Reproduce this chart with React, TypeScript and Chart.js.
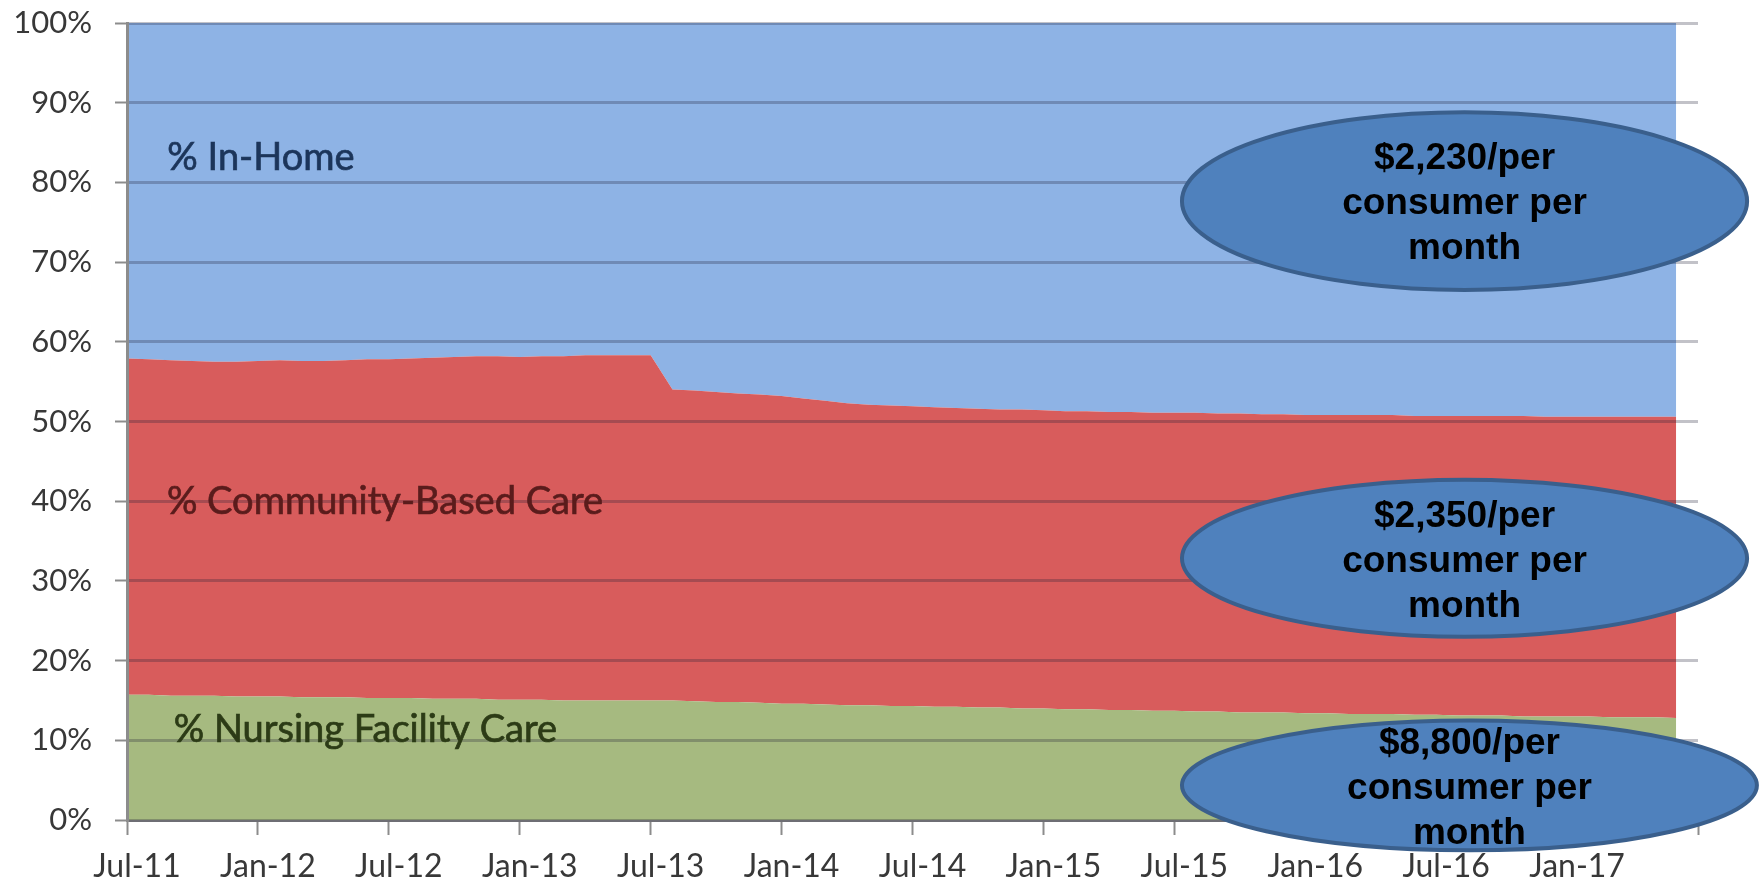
import { useEffect, useRef } from 'react';
import { Chart, registerables } from 'chart.js';

Chart.register(...registerables);

// Month index 0 = Jul-11 ... 71 = Jun-17 (axis runs to Jul-17 = 72)
const xTickLabels = ['Jul-11', 'Jan-12', 'Jul-12', 'Jan-13', 'Jul-13', 'Jan-14', 'Jul-14', 'Jan-15', 'Jul-15', 'Jan-16', 'Jul-16', 'Jan-17'];

const nursingFacility = [
  15.7, 15.7, 15.6, 15.6, 15.6, 15.5, 15.5, 15.5, 15.4, 15.4, 15.4, 15.3,
  15.3, 15.3, 15.2, 15.2, 15.2, 15.1, 15.1, 15.1, 15.0, 15.0, 15.0, 15.0,
  15.0, 15.0, 14.9, 14.8, 14.8, 14.7, 14.6, 14.6, 14.5, 14.4, 14.4, 14.3,
  14.3, 14.2, 14.2, 14.1, 14.1, 14.0, 14.0, 13.9, 13.9, 13.8, 13.8, 13.7,
  13.7, 13.6, 13.6, 13.5, 13.5, 13.5, 13.4, 13.4, 13.3, 13.3, 13.3, 13.2,
  13.2, 13.1, 13.1, 13.1, 13.0, 13.0, 13.0, 13.0, 12.9, 12.9, 12.9, 12.8,
];

const communityBased = [
  42.2, 42.1, 42.1, 42.0, 41.9, 42.0, 42.1, 42.2, 42.2, 42.2, 42.3, 42.5,
  42.5, 42.6, 42.8, 42.9, 43.0, 43.1, 43.0, 43.1, 43.2, 43.3, 43.3, 43.3,
  43.3, 39.0, 39.0, 38.9, 38.7, 38.7, 38.6, 38.3, 38.1, 37.9, 37.7, 37.7,
  37.6, 37.6, 37.5, 37.5, 37.4, 37.5, 37.4, 37.4, 37.4, 37.4, 37.4, 37.4,
  37.4, 37.5, 37.4, 37.5, 37.4, 37.4, 37.4, 37.4, 37.5, 37.5, 37.5, 37.5,
  37.5, 37.6, 37.6, 37.6, 37.7, 37.6, 37.6, 37.6, 37.7, 37.7, 37.7, 37.8,
];

const inHome = [
  42.1, 42.2, 42.3, 42.4, 42.5, 42.5, 42.4, 42.3, 42.4, 42.4, 42.3, 42.2,
  42.2, 42.1, 42.0, 41.9, 41.8, 41.8, 41.9, 41.8, 41.8, 41.7, 41.7, 41.7,
  41.7, 46.0, 46.1, 46.3, 46.5, 46.6, 46.8, 47.1, 47.4, 47.7, 47.9, 48.0,
  48.1, 48.2, 48.3, 48.4, 48.5, 48.5, 48.6, 48.7, 48.7, 48.8, 48.8, 48.9,
  48.9, 48.9, 49.0, 49.0, 49.1, 49.1, 49.2, 49.2, 49.2, 49.2, 49.2, 49.3,
  49.3, 49.3, 49.3, 49.3, 49.3, 49.4, 49.4, 49.4, 49.4, 49.4, 49.4, 49.4,
];

const seriesLabels = ['% In-Home', '% Community-Based Care', '% Nursing Facility Care'];
const costLabels = ['$2,230/per', '$2,350/per', '$8,800/per'];
const costSubLines = ['consumer per', 'month'];

// annotation placement in data units (month index, percent)
const seriesLabelAnchors = [
  { x: 1.85, y: 83.1, color: '#1c355a' },
  { x: 1.83, y: 39.9, color: '#5a1c1c' },
  { x: 2.14, y: 11.3, color: '#2c3b16' },
];
const ellipseBoxes = [
  { x0: 48.35, x1: 74.25, y0: 88.8, y1: 66.5, dy: 3 },
  { x0: 48.35, x1: 74.25, y0: 42.7, y1: 23.0, dy: 4 },
  { x0: 48.35, x1: 74.7, y0: 12.5, y1: -3.8, dy: 3 },
];

const toPoints = (arr: number[]) => arr.map((v, i) => ({ x: i, y: v }));

const annotationPlugin = {
  id: 'annotations',
  afterDraw(chart: any) {
    const { ctx } = chart;
    const xs = chart.scales.x;
    const ys = chart.scales.y;
    ctx.save();
    ctx.font = '38px Lato';
    ctx.textAlign = 'left';
    ctx.textBaseline = 'middle';
    ctx.lineWidth = 0.7;
    seriesLabels.forEach((label, i) => {
      const a = seriesLabelAnchors[i];
      const px = xs.getPixelForValue(a.x);
      const py = ys.getPixelForValue(a.y);
      ctx.fillStyle = a.color;
      ctx.strokeStyle = a.color;
      ctx.fillText(label, px, py);
      ctx.strokeText(label, px, py);
    });
    ellipseBoxes.forEach((b, i) => {
      const px0 = xs.getPixelForValue(b.x0);
      const px1 = xs.getPixelForValue(b.x1);
      const py0 = ys.getPixelForValue(b.y0);
      const py1 = ys.getPixelForValue(b.y1);
      const cx = (px0 + px1) / 2;
      const cy = (py0 + py1) / 2;
      ctx.beginPath();
      ctx.ellipse(cx, cy, (px1 - px0) / 2, (py1 - py0) / 2, 0, 0, Math.PI * 2);
      ctx.fillStyle = '#4f81bd';
      ctx.fill();
      ctx.lineWidth = 4;
      ctx.strokeStyle = '#3a5f8c';
      ctx.stroke();
      ctx.fillStyle = '#000';
      ctx.font = 'bold 37px "Liberation Sans", Arial, sans-serif';
      ctx.textAlign = 'center';
      ctx.textBaseline = 'middle';
      const lines = [costLabels[i], ...costSubLines];
      lines.forEach((t, k) => {
        ctx.fillText(t, cx, cy + b.dy + (k - 1) * 45);
      });
    });
    ctx.restore();
  },
};

export default function App() {
  const ref = useRef<HTMLCanvasElement | null>(null);
  useEffect(() => {
    if (!ref.current) return;
    const chart = new Chart(ref.current, {
      type: 'line',
      data: {
        datasets: [
          {
            label: seriesLabels[2],
            data: toPoints(nursingFacility),
            backgroundColor: '#a6ba80',
            borderWidth: 0,
            pointRadius: 0,
            fill: 'origin',
            tension: 0,
          },
          {
            label: seriesLabels[1],
            data: toPoints(communityBased),
            backgroundColor: '#d85c5c',
            borderWidth: 0,
            pointRadius: 0,
            fill: '-1',
            tension: 0,
          },
          {
            label: seriesLabels[0],
            data: toPoints(inHome),
            backgroundColor: '#8eb3e5',
            borderWidth: 0,
            pointRadius: 0,
            fill: '-1',
            tension: 0,
          },
        ],
      },
      options: {
        animation: false,
        responsive: false,
        devicePixelRatio: 1,
        layout: { padding: { left: 0, top: 23, right: 65, bottom: 0 } },
        plugins: { legend: { display: false }, tooltip: { enabled: false } },
        elements: { line: { borderWidth: 0 } },
        scales: {
          x: {
            type: 'linear',
            min: 0,
            max: 72,
            afterFit: (s: any) => { s.height = 67; },
            grid: { drawOnChartArea: false, drawTicks: true, tickLength: 15, tickColor: '#8c8c8c', tickWidth: 2 },
            border: { display: true, color: '#8c8c8c', width: 3 },
            ticks: {
              stepSize: 6,
              autoSkip: false,
              maxRotation: 0,
              labelOffset: 10,
              padding: 12,
              color: '#383838',
              font: { family: 'Lato', size: 32 },
              callback: (v: any) => xTickLabels[Number(v) / 6] ?? '',
            },
          },
          y: {
            stacked: true,
            min: 0,
            max: 100,
            afterFit: (s: any) => { s.width = 127; s.paddingTop = 0; s.paddingBottom = 0; },
            grid: { z: 1, color: 'rgba(30,30,50,0.27)', lineWidth: 3, tickColor: '#8c8c8c', tickLength: 12, tickWidth: 2 },
            border: { display: true, color: '#8c8c8c', width: 3, z: 1 },
            ticks: {
              stepSize: 10,
              padding: 23,
              color: '#383838',
              font: { family: 'Lato', size: 31 },
              callback: (v: any) => `${v}%`,
            },
          },
        },
      },
      plugins: [annotationPlugin],
    });
    return () => chart.destroy();
  }, []);
  return (
    <div style={{ position: 'fixed', left: 0, top: 0, width: 1763, height: 887, background: '#fff' }}>
      <canvas ref={ref} width={1763} height={887} />
    </div>
  );
}
